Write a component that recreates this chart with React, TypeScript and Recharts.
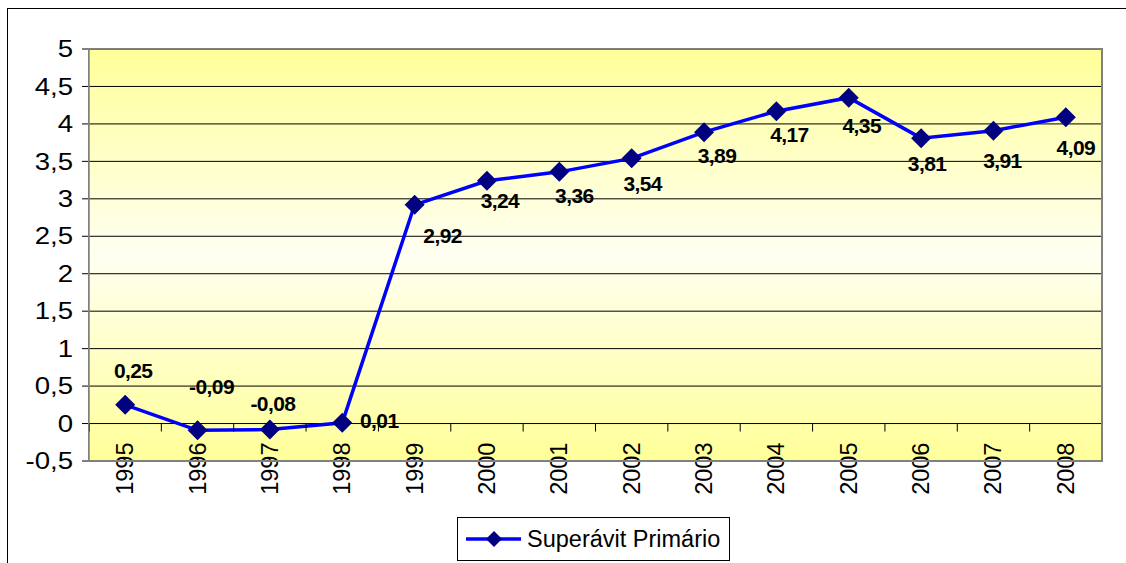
import React from "react";
import {
  LineChart,
  Line,
  XAxis,
  YAxis,
  CartesianGrid,
  LabelList,
} from "recharts";

// Superávit primário (% do PIB), 1995–2008
const years = ["1995", "1996", "1997", "1998", "1999", "2000", "2001", "2002", "2003", "2004", "2005", "2006", "2007", "2008"];
const superavit = [0.25, -0.09, -0.08, 0.01, 2.92, 3.24, 3.36, 3.54, 3.89, 4.17, 4.35, 3.81, 3.91, 4.09];
const yTicks = [-0.5, 0, 0.5, 1, 1.5, 2, 2.5, 3, 3.5, 4, 4.5, 5];
const seriesName = "Superávit Primário";

const data = years.map((year, i) => ({ year, value: superavit[i] }));

const FONT = '"Liberation Sans", Arial, sans-serif';
const WIDTH = 1126;
const HEIGHT = 563;
const PLOT_LEFT = 89;
const PLOT_RIGHT = 1102;
const PLOT_TOP = 49;
const PLOT_BOTTOM = 461;
const Y_MIN = -0.5;
const Y_MAX = 5;

const PLOT_W = PLOT_RIGHT - PLOT_LEFT;
const PLOT_H = PLOT_BOTTOM - PLOT_TOP;
const HALF_BAND = PLOT_W / years.length / 2;
// the category axis crosses the value axis at zero
const ZERO_Y = PLOT_TOP + (PLOT_H * Y_MAX) / (Y_MAX - Y_MIN);

// where each value label sits relative to its marker
const LABEL_OFFSETS: [number, number][] = [
  [8, -34], [14, -44], [3, -26], [37, -2], [28, 31], [13, 20], [15, 24],
  [11, 25], [13, 23], [13, 23], [13, 28], [6, 25], [9, 30], [10, 30],
];

const fmt = (v: number) => String(v).replace(".", ",");
const fmt2 = (v: number) => v.toFixed(2).replace(".", ",");

function Diamond(props: any) {
  const { cx, cy } = props;
  if (cx == null || cy == null) return null;
  const r = 10;
  return (
    <path
      d={`M${cx},${cy - r} L${cx + r},${cy} L${cx},${cy + r} L${cx - r},${cy} Z`}
      fill="#000080"
    />
  );
}

function YearTick(props: any) {
  const { x, payload, index } = props;
  const last = index === years.length - 1;
  const ty = ZERO_Y + 19;
  return (
    <g>
      <line x1={x - HALF_BAND} x2={x - HALF_BAND} y1={ZERO_Y} y2={ZERO_Y + 8} stroke="#000" />
      {last && <line x1={x + HALF_BAND} x2={x + HALF_BAND} y1={ZERO_Y} y2={ZERO_Y + 8} stroke="#000" />}
      <text
        x={x}
        y={ty}
        transform={`rotate(-90, ${x}, ${ty})`}
        textAnchor="end"
        dominantBaseline="central"
        fontFamily={FONT}
        fontSize={23.5}
        fill="#000"
      >
        {payload.value}
      </text>
    </g>
  );
}

function ValueTick(props: any) {
  const { x, y, payload } = props;
  return (
    <text
      transform={`translate(${x}, ${y}) scale(1.2, 1)`}
      textAnchor="end"
      dominantBaseline="central"
      fontFamily={FONT}
      fontSize={23}
      fill="#000"
    >
      {fmt(payload.value)}
    </text>
  );
}

function ValueLabel(props: any) {
  const { x, y, value, index } = props;
  const [dx, dy] = LABEL_OFFSETS[index] ?? [12, 25];
  return (
    <text
      x={x + dx}
      y={y + dy}
      textAnchor="middle"
      dominantBaseline="central"
      fontFamily={FONT}
      fontWeight="bold"
      fontSize={21}
      letterSpacing={-0.6}
      fill="#000"
    >
      {fmt2(value)}
    </text>
  );
}

function LegendBox() {
  return (
    <div
      style={{
        position: "absolute",
        left: 457,
        top: 517,
        width: 273,
        height: 44,
        boxSizing: "border-box",
        border: "1px solid #000",
        background: "#fff",
        display: "flex",
        alignItems: "center",
        fontFamily: FONT,
        fontSize: 23.5,
        color: "#000",
      }}
    >
      <svg width={68} height={20}>
        <line x1={8} x2={63} y1={10} y2={10} stroke="#0000FF" strokeWidth={3.5} />
        <path d="M36,2 L44,10 L36,18 L28,10 Z" fill="#000080" />
      </svg>
      <span style={{ marginLeft: 1 }}>{seriesName}</span>
    </div>
  );
}

export default function App() {
  return (
    <div style={{ position: "absolute", left: 0, top: 0, width: WIDTH, height: HEIGHT, background: "#fff", overflow: "hidden" }}>
      <div
        style={{
          position: "absolute",
          left: 7,
          top: 8,
          width: WIDTH,
          height: HEIGHT,
          border: "1.5px solid #000",
        }}
      />
      <LineChart
        width={WIDTH}
        height={HEIGHT}
        data={data}
        margin={{ top: PLOT_TOP, right: WIDTH - PLOT_RIGHT, left: 0, bottom: 0 }}
        style={{ position: "absolute", left: 0, top: 0 }}
      >
        <defs>
          <linearGradient id="plotBg" x1="0" y1="0" x2="0" y2="1">
            <stop offset="0%" stopColor="#FFFF99" />
            <stop offset="50%" stopColor="#FFFFF2" />
            <stop offset="100%" stopColor="#FFFF99" />
          </linearGradient>
        </defs>
        <CartesianGrid vertical={false} stroke="#000" strokeWidth={1} fill="url(#plotBg)" fillOpacity={1} />
        <XAxis
          dataKey="year"
          scale="point"
          padding={{ left: HALF_BAND, right: HALF_BAND }}
          axisLine={false}
          tickLine={false}
          tick={<YearTick />}
          interval={0}
          height={HEIGHT - PLOT_BOTTOM}
        />
        <YAxis
          domain={[Y_MIN, Y_MAX]}
          ticks={yTicks}
          interval={0}
          width={PLOT_LEFT}
          axisLine={{ stroke: "#808080", strokeWidth: 1.5 }}
          tickLine={{ stroke: "#000" }}
          tickSize={7}
          tickMargin={9}
          tick={<ValueTick />}
        />
        <Line
          type="linear"
          dataKey="value"
          name={seriesName}
          stroke="#0000FF"
          strokeWidth={3.5}
          dot={<Diamond />}
          activeDot={false}
          isAnimationActive={false}
        >
          <LabelList dataKey="value" content={<ValueLabel />} />
        </Line>
      </LineChart>
      {/* grey frame round the plot area */}
      <div
        style={{
          position: "absolute",
          left: PLOT_LEFT - 1,
          top: PLOT_TOP - 1,
          width: PLOT_W + 2,
          height: PLOT_H + 2,
          boxSizing: "border-box",
          borderTop: "1.5px solid #808080",
          borderLeft: "1.5px solid #808080",
          borderRight: "2.5px solid #808080",
          borderBottom: "2.5px solid #808080",
          pointerEvents: "none",
        }}
      />
      <LegendBox />
    </div>
  );
}
